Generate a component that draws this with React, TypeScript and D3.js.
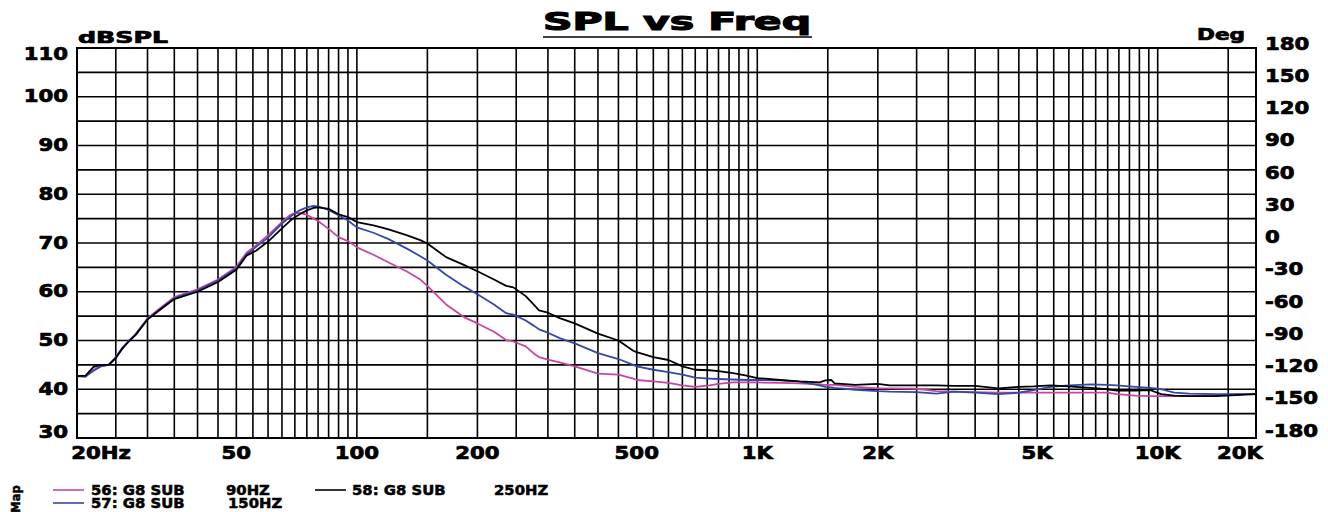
import React from "react";
import { scaleLog, scaleLinear, line, range } from "d3";

// frequency points (Hz) shared by all three traces
const freqs = [
  20, 21, 22, 23, 24, 25, 26, 27, 28, 30,
  32, 35, 40, 45, 50, 53, 56, 60, 65, 68,
  70, 72, 75, 78, 80, 85, 90, 95, 100, 110,
  120, 133, 144, 150, 167, 185, 200, 220, 236, 246,
  264, 277, 285, 300, 321, 350, 400, 450, 490, 500,
  550, 600, 650, 700, 760, 800, 870, 940, 1000, 1140,
  1270, 1430, 1480, 1530, 1560, 1760, 2000, 2140, 2500, 2800,
  3100, 3500, 4000, 4500, 4900, 5400, 6000, 6800, 7500, 7900,
  8800, 9600, 10200, 11000, 12000, 14000, 17600,
];

// 56: G8 SUB 90HZ
const sub90 = [
  42.7, 42.6, 44.0, 44.8, 45.0, 46.6, 48.6, 50.0, 51.3, 54.5,
  56.4, 58.9, 60.5, 62.5, 65.1, 68.0, 69.5, 71.6, 74.3, 75.7,
  76.1, 76.2, 75.8, 75.0, 74.5, 72.9, 71.2, 70.4, 69.1, 67.6,
  66.0, 64.2, 62.5, 61.2, 57.4, 54.8, 53.5, 51.8, 50.1, 49.8,
  48.8, 47.3, 46.6, 46.1, 45.5, 44.7, 43.2, 43.0, 42.2, 41.9,
  41.6, 41.3, 40.8, 40.5, 40.8, 41.1, 41.4, 41.4, 41.4, 41.3,
  41.2, 41.0, 40.9, 40.9, 40.9, 40.5, 40.2, 40.2, 40.1, 39.6,
  39.5, 39.4, 39.3, 39.3, 39.3, 39.3, 39.3, 39.3, 39.3, 39.0,
  38.7, 38.6, 38.6, 38.6, 38.6, 38.8, 39.1,
];

// 57: G8 SUB 150HZ
const sub150 = [
  42.7, 42.6, 43.8, 44.7, 45.0, 46.5, 48.5, 50.0, 51.2, 54.4,
  56.2, 58.7, 60.3, 62.3, 64.8, 67.6, 69.2, 71.1, 74.0, 75.3,
  76.1, 76.7, 77.3, 77.6, 77.5, 76.8, 75.7, 74.6, 73.2, 72.1,
  70.8, 68.9, 67.3, 66.4, 63.5, 61.1, 59.5, 57.4, 55.6, 55.3,
  54.1, 53.0, 52.3, 51.6, 50.5, 49.4, 47.4, 46.2, 45.0, 44.7,
  44.0, 43.5, 43.0, 42.4, 42.2, 42.1, 42.0, 41.9, 41.9, 41.8,
  41.6, 40.8, 40.5, 40.4, 40.3, 39.9, 39.6, 39.5, 39.4, 39.1,
  39.5, 39.3, 39.0, 39.3, 39.8, 40.5, 40.8, 41.0, 40.9, 40.8,
  40.5, 40.3, 40.0, 39.3, 39.1, 39.0, 39.0,
];

// 58: G8 SUB 250HZ
const sub250 = [
  42.7, 42.8, 44.6, 45.0, 45.0, 46.4, 48.4, 49.9, 51.1, 54.3,
  56.1, 58.5, 60.0, 62.0, 64.5, 67.4, 68.4, 70.3, 73.0, 74.5,
  75.3, 75.9, 76.7, 77.2, 77.3, 77.0, 75.9, 75.3, 74.3, 73.6,
  72.8, 71.6, 70.6, 69.9, 67.1, 65.5, 64.2, 62.5, 61.2, 60.9,
  59.1, 57.3, 56.2, 55.7, 54.6, 53.5, 51.4, 50.0, 47.9, 47.6,
  46.6, 46.0, 44.7, 44.0, 43.9, 43.7, 43.3, 42.8, 42.3, 41.9,
  41.6, 41.4, 41.8, 41.9, 41.2, 40.9, 41.1, 40.8, 40.8, 40.8,
  40.7, 40.7, 40.2, 40.5, 40.6, 40.8, 40.6, 40.3, 40.0, 39.7,
  39.7, 39.8, 39.0, 38.7, 38.6, 38.6, 39.0,
];

const dbTicks = [30, 40, 50, 60, 70, 80, 90, 100, 110];
const degTicks = [180, 150, 120, 90, 60, 30, 0, -30, -60, -90, -120, -150, -180];
const freqTicks = [20, 50, 100, 200, 500, 1000, 2000, 5000, 10000, 20000];
const freqLabels = ["20Hz", "50", "100", "200", "500", "1K", "2K", "5K", "10K", "20K"];
// vertical grid: 5 Hz steps below 100, 50 Hz below 1K, 500 Hz below 10K
const freqGrid = [
  ...range(25, 100, 5),
  ...range(100, 1000, 50),
  ...range(1000, 10000, 500),
  10000,
  15000,
];

const series = [
  { name: "56: G8 SUB", note: "90HZ", values: sub90, color: "#c8469e" },
  { name: "57: G8 SUB", note: "150HZ", values: sub150, color: "#3548a8" },
  { name: "58: G8 SUB", note: "250HZ", values: sub250, color: "#000000" },
];

const W = 1328;
const H = 512;
const left = 77;
const right = 1256;
const top = 48;
const bottom = 438;
const font = "'DejaVu Sans', sans-serif";

export default function App() {
  const x = scaleLog().domain([20, 17600]).range([left, right]);
  const y = scaleLinear().domain([30, 110]).range([bottom, top]);
  const yDeg = scaleLinear().domain([-180, 180]).range([431, 44]);

  const path = line<number>()
    .x((_, i) => x(freqs[i]))
    .y((d) => y(d));

  const clamp = (v: number, a: number, b: number) => Math.max(a, Math.min(b, v));

  // legend layout: two in first column, one in second
  const legendPos = [
    { lx: 53, tx: 91, nx: 226, y: 490 },
    { lx: 53, tx: 91, nx: 228, y: 503 },
    { lx: 315, tx: 352, nx: 494, y: 490 },
  ];

  // heavier glyphs, closer to the original's black face
  const heavy = { stroke: "#000", strokeWidth: 0.7, strokeLinejoin: "round" as const };

  return (
    <svg
      width={W}
      height={H}
      style={{ position: "absolute", left: 0, top: 0, background: "#fff" }}
      fontFamily={font}
      fontWeight="bold"
    >
      {/* title */}
      <text x={543} y={30} fontSize={24} textLength={268} lengthAdjust="spacingAndGlyphs" stroke="#000" strokeWidth={1.1}>
        SPL vs Freq
      </text>
      <line x1={543} x2={812} y1={37} y2={37} stroke="#000" strokeWidth={1.5} />

      <text x={78} y={43} fontSize={15} textLength={90} lengthAdjust="spacingAndGlyphs" {...heavy}>
        dBSPL
      </text>
      <text x={1197} y={40} fontSize={15} textLength={48} lengthAdjust="spacingAndGlyphs" {...heavy}>
        Deg
      </text>

      {/* grid */}
      <g stroke="#000" strokeWidth={1.6}>
        {range(35, 110, 5).map((v) => (
          <line key={"h" + v} x1={left} x2={right} y1={y(v)} y2={y(v)} />
        ))}
        {freqGrid.map((f) => (
          <line key={"v" + f} x1={x(f)} x2={x(f)} y1={top} y2={bottom} />
        ))}
        <rect x={left} y={top} width={right - left} height={bottom - top} fill="none" strokeWidth={2} />
      </g>

      {/* left axis */}
      {dbTicks.map((v) => (
        <g key={"l" + v} transform={`translate(68,${clamp(y(v), 54, 432)}) scale(1.25,1)`}>
          <text textAnchor="end" dominantBaseline="central" fontSize={17} {...heavy}>
            {v}
          </text>
        </g>
      ))}

      {/* right axis */}
      {degTicks.map((v) => (
        <g key={"r" + v} transform={`translate(1265,${yDeg(v)}) scale(1.25,1)`}>
          <text dominantBaseline="central" fontSize={17} {...heavy}>
            {v}
          </text>
        </g>
      ))}

      {/* bottom axis */}
      {freqTicks.map((f, i) => (
        <g key={"b" + f} transform={`translate(${clamp(x(f), 101, 1240)},459) scale(1.25,1)`}>
          <text textAnchor="middle" fontSize={17} {...heavy}>
            {freqLabels[i]}
          </text>
        </g>
      ))}

      {/* traces */}
      <g fill="none" strokeWidth={1.8} strokeLinejoin="round">
        {series.map((s) => (
          <path key={s.name} d={path(s.values) ?? ""} stroke={s.color} />
        ))}
      </g>

      {/* legend */}
      <text transform="translate(19.5,499) rotate(-90)" textAnchor="middle" fontSize={11.5} stroke="#000" strokeWidth={0.5}>
        Map
      </text>
      {series.map((s, i) => {
        const p = legendPos[i];
        return (
          <g key={"lg" + i}>
            <line x1={p.lx} x2={p.lx + 31} y1={p.y} y2={p.y} stroke={s.color} strokeWidth={1.6} />
            <g transform={`translate(${p.tx},${p.y}) scale(1.1,1)`}>
              <text dominantBaseline="central" fontSize={13.5} stroke="#000" strokeWidth={0.5}>
                {s.name}
              </text>
            </g>
            <g transform={`translate(${p.nx},${p.y}) scale(1.1,1)`}>
              <text dominantBaseline="central" fontSize={13.5} stroke="#000" strokeWidth={0.5}>
                {s.note}
              </text>
            </g>
          </g>
        );
      })}
    </svg>
  );
}
